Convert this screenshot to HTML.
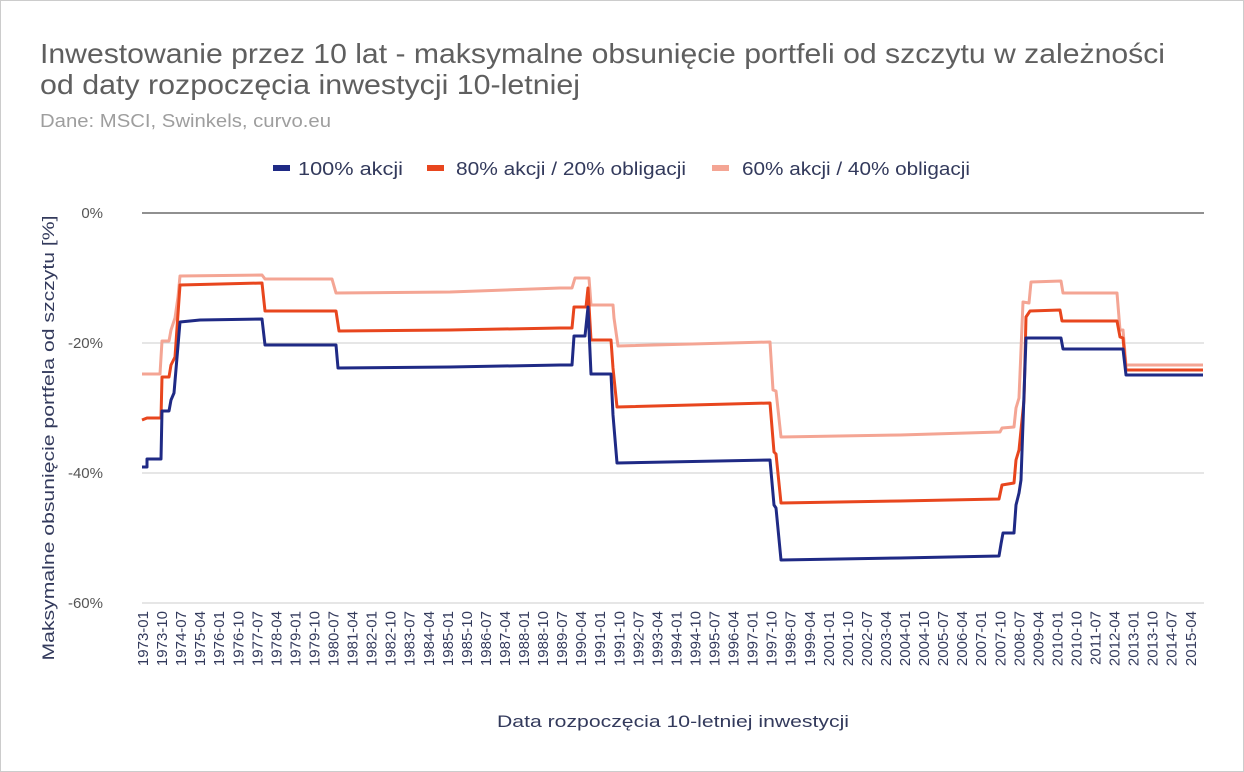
<!DOCTYPE html>
<html><head><meta charset="utf-8"><style>
body{margin:0;background:#fff;}
svg{display:block;font-family:"Liberation Sans",sans-serif;}
</style></head><body>
<svg width="1244" height="772" viewBox="0 0 1244 772" xmlns="http://www.w3.org/2000/svg">
<rect x="0.5" y="0.5" width="1243" height="771" fill="#fff" stroke="#ccc"/>
<text x="40" y="63" font-size="28" fill="#5f5f5f" textLength="1125" lengthAdjust="spacingAndGlyphs">Inwestowanie przez 10 lat - maksymalne obsunięcie portfeli od szczytu w zależności</text>
<text x="40" y="94" font-size="28" fill="#5f5f5f" textLength="540" lengthAdjust="spacingAndGlyphs">od daty rozpoczęcia inwestycji 10-letniej</text>
<text x="40" y="127" font-size="18" fill="#9e9e9e" textLength="291" lengthAdjust="spacingAndGlyphs">Dane: MSCI, Swinkels, curvo.eu</text>
<g font-size="18" fill="#333a5c">
<rect x="273" y="165" width="17" height="6" fill="#1f2a85"/><text x="298" y="175" textLength="105" lengthAdjust="spacingAndGlyphs">100% akcji</text>
<rect x="427" y="165" width="17" height="6" fill="#e8461e"/><text x="456" y="175" textLength="230" lengthAdjust="spacingAndGlyphs">80% akcji / 20% obligacji</text>
<rect x="712" y="165" width="17" height="6" fill="#f4a594"/><text x="742" y="175" textLength="228" lengthAdjust="spacingAndGlyphs">60% akcji / 40% obligacji</text>
</g>
<g stroke="#ccc" stroke-width="1">
<line x1="142" y1="343" x2="1204" y2="343"/>
<line x1="142" y1="473" x2="1204" y2="473"/>
<line x1="142" y1="603" x2="1204" y2="603"/>
</g>
<line x1="142" y1="213" x2="1204" y2="213" stroke="#222" stroke-width="1"/>
<g font-size="15" fill="#555" text-anchor="end">
<text x="103" y="218">0%</text>
<text x="103" y="348">-20%</text>
<text x="103" y="478">-40%</text>
<text x="103" y="608">-60%</text>
</g>
<text transform="translate(54,438) rotate(-90)" font-size="17" fill="#333a5c" text-anchor="middle" textLength="445" lengthAdjust="spacingAndGlyphs">Maksymalne obsunięcie portfela od szczytu [%]</text>
<text x="497" y="727" font-size="17" fill="#333a5c" textLength="352" lengthAdjust="spacingAndGlyphs">Data rozpoczęcia 10-letniej inwestycji</text>
<g font-size="15" fill="#333a5c" text-anchor="end">
<text transform="translate(148.0,611) rotate(-90)">1973-01</text>
<text transform="translate(167.1,611) rotate(-90)">1973-10</text>
<text transform="translate(186.1,611) rotate(-90)">1974-07</text>
<text transform="translate(205.2,611) rotate(-90)">1975-04</text>
<text transform="translate(224.2,611) rotate(-90)">1976-01</text>
<text transform="translate(243.3,611) rotate(-90)">1976-10</text>
<text transform="translate(262.3,611) rotate(-90)">1977-07</text>
<text transform="translate(281.4,611) rotate(-90)">1978-04</text>
<text transform="translate(300.4,611) rotate(-90)">1979-01</text>
<text transform="translate(319.5,611) rotate(-90)">1979-10</text>
<text transform="translate(338.5,611) rotate(-90)">1980-07</text>
<text transform="translate(357.6,611) rotate(-90)">1981-04</text>
<text transform="translate(376.6,611) rotate(-90)">1982-01</text>
<text transform="translate(395.7,611) rotate(-90)">1982-10</text>
<text transform="translate(414.7,611) rotate(-90)">1983-07</text>
<text transform="translate(433.8,611) rotate(-90)">1984-04</text>
<text transform="translate(452.8,611) rotate(-90)">1985-01</text>
<text transform="translate(471.9,611) rotate(-90)">1985-10</text>
<text transform="translate(490.9,611) rotate(-90)">1986-07</text>
<text transform="translate(510.0,611) rotate(-90)">1987-04</text>
<text transform="translate(529.0,611) rotate(-90)">1988-01</text>
<text transform="translate(548.1,611) rotate(-90)">1988-10</text>
<text transform="translate(567.1,611) rotate(-90)">1989-07</text>
<text transform="translate(586.2,611) rotate(-90)">1990-04</text>
<text transform="translate(605.2,611) rotate(-90)">1991-01</text>
<text transform="translate(624.3,611) rotate(-90)">1991-10</text>
<text transform="translate(643.3,611) rotate(-90)">1992-07</text>
<text transform="translate(662.4,611) rotate(-90)">1993-04</text>
<text transform="translate(681.4,611) rotate(-90)">1994-01</text>
<text transform="translate(700.5,611) rotate(-90)">1994-10</text>
<text transform="translate(719.5,611) rotate(-90)">1995-07</text>
<text transform="translate(738.6,611) rotate(-90)">1996-04</text>
<text transform="translate(757.6,611) rotate(-90)">1997-01</text>
<text transform="translate(776.7,611) rotate(-90)">1997-10</text>
<text transform="translate(795.7,611) rotate(-90)">1998-07</text>
<text transform="translate(814.8,611) rotate(-90)">1999-04</text>
<text transform="translate(833.8,611) rotate(-90)">2001-01</text>
<text transform="translate(852.9,611) rotate(-90)">2001-10</text>
<text transform="translate(871.9,611) rotate(-90)">2002-07</text>
<text transform="translate(891.0,611) rotate(-90)">2003-04</text>
<text transform="translate(910.0,611) rotate(-90)">2004-01</text>
<text transform="translate(929.1,611) rotate(-90)">2004-10</text>
<text transform="translate(948.1,611) rotate(-90)">2005-07</text>
<text transform="translate(967.2,611) rotate(-90)">2006-04</text>
<text transform="translate(986.2,611) rotate(-90)">2007-01</text>
<text transform="translate(1005.3,611) rotate(-90)">2007-10</text>
<text transform="translate(1024.3,611) rotate(-90)">2008-07</text>
<text transform="translate(1043.4,611) rotate(-90)">2009-04</text>
<text transform="translate(1062.4,611) rotate(-90)">2010-01</text>
<text transform="translate(1081.5,611) rotate(-90)">2010-10</text>
<text transform="translate(1100.5,611) rotate(-90)">2011-07</text>
<text transform="translate(1119.6,611) rotate(-90)">2012-04</text>
<text transform="translate(1138.6,611) rotate(-90)">2013-01</text>
<text transform="translate(1157.7,611) rotate(-90)">2013-10</text>
<text transform="translate(1176.7,611) rotate(-90)">2014-07</text>
<text transform="translate(1195.8,611) rotate(-90)">2015-04</text>
</g>
<g fill="none" stroke-width="3" stroke-linejoin="round">
<polyline stroke="#f4a594" points="142,374 160,374 162,341 169,341 171,330 175,318 178,297 180,276 262,275 265,279 332,279 336,293 450,292 560,288 572,288 575,278 589,278 591,305 613,305 614,318 618,346 770,342 773,390 776,391 781,437 900,435 1000,432 1002,428 1014,427 1016,408 1019,398 1023,302 1029,303 1031,282 1061,281 1063,293 1117,293 1120,330 1123,330 1126,365 1203,365"/>
<polyline stroke="#e8461e" points="142,420 147,418 161,418 162,377 169,377 171,365 175,357 180,285 262,283 265,311 336,311 339,331 450,330 560,328 572,328 574,307 586,307 588,288 591,340 611,340 613,368 617,407 770,403 774,452 776,454 781,503 900,501 999,499 1002,485 1014,483 1016,460 1019,450 1024,400 1026,317 1030,311 1060,310 1062,321 1117,321 1120,337 1123,338 1126,370 1203,370"/>
<polyline stroke="#1f2a85" points="142,467 147,467 147,459 161,459 162,411 169,411 171,400 174,393 180,322 200,320 262,319 265,345 336,345 338,368 450,367 560,365 572,365 574,336 585,336 588,307 591,374 611,374 613,415 617,463 770,460 774,505 776,508 781,560 900,558 999,556 1001,544 1003,533 1014,533 1016,505 1019,493 1021,480 1026,338 1061,338 1063,349 1123,349 1126,375 1203,375"/>
</g>
</svg>
</body></html>
